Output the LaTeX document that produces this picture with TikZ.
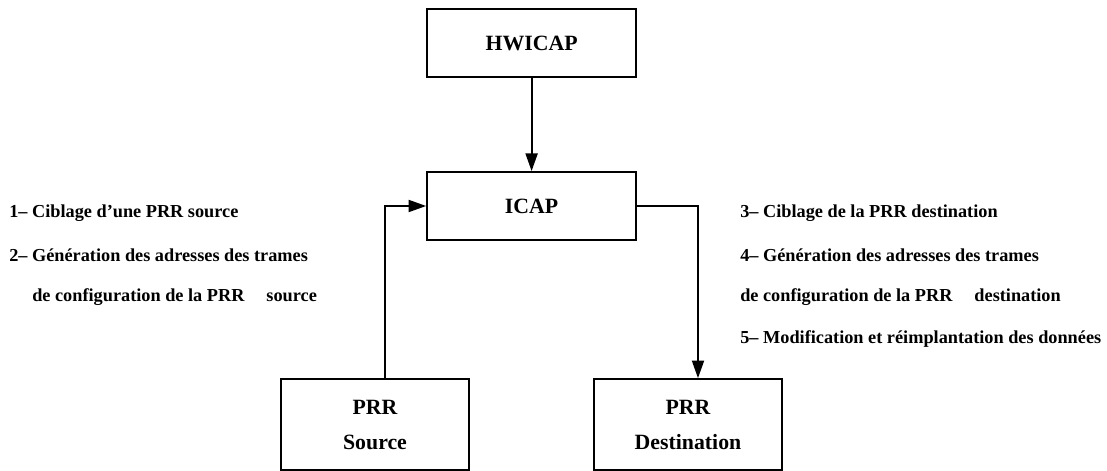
\documentclass[tikz,border=0pt]{standalone}
\usepackage{fontspec}
\setmainfont{Liberation Serif}
\usetikzlibrary{positioning,arrows.meta,calc}
\tikzset{
  flowarrow/.style={-{Triangle[length=4.4mm, width=3mm]}, line width=1.3pt},
  ctrlbox/.style={draw, line width=1.3pt, minimum width=5.225cm, minimum height=1.7cm, align=center, font=\fontsize{15.5}{18}\selectfont\bfseries},
  prrbox/.style={draw, line width=1.3pt, minimum width=4.7cm, minimum height=2.275cm, align=center, font=\fontsize{15.5}{25}\selectfont\bfseries},
  steptext/.style={anchor=west, inner sep=0pt, font=\fontsize{13}{15}\selectfont\bfseries}
}

\begin{document}
\begin{tikzpicture}[>=Triangle]
  \useasboundingbox (0,0) rectangle (27.675,11.775);
  \node[ctrlbox] (hwicap) at (13.29,10.69) {HWICAP};
  \node[ctrlbox] (icap) at (13.29,6.625) {ICAP};
  \node[prrbox] (src) at (9.375,1.16) {PRR\\Source};
  \node[prrbox] (dst) at (17.2,1.16) {PRR\\Destination};
  \draw[flowarrow] (hwicap) -- (icap);
  \draw[flowarrow] ([xshift=0.25cm]src.north) |- (icap.west);
  \draw[flowarrow] (icap.east) -| ([xshift=0.25cm]dst.north);
  % etapes cote source
  \node[steptext] (s1) at (0.225,6.45) {1-- Ciblage d'une PRR source};
  \node[steptext] (s2) at (0.225,5.4) {2-- Génération des adresses des trames};
  \node[steptext] (s2b) at (0.8,4.35) {de configuration de la PRR\hspace{0.55cm}source};
  % etapes cote destination
  \node[steptext] (d3) at (18.5,6.45) {3-- Ciblage de la PRR destination};
  \node[steptext] (d4) at (18.5,5.4) {4-- Génération des adresses des trames};
  \node[steptext] (d4b) at (18.5,4.35) {de configuration de la PRR\hspace{0.55cm}destination};
  \node[steptext] (d5) at (18.5,3.3) {5-- Modification et réimplantation des données};
\end{tikzpicture}
\end{document}
